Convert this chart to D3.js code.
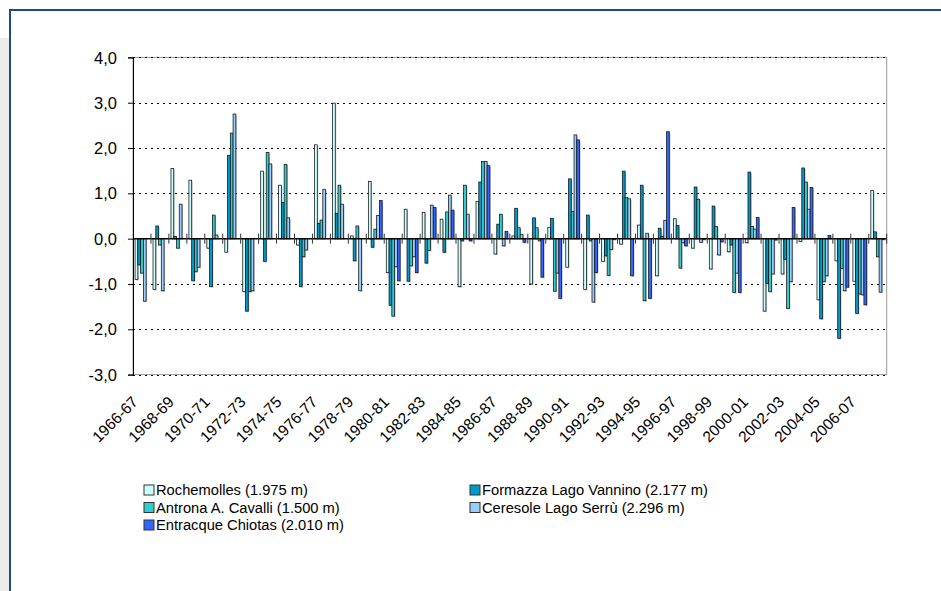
<!DOCTYPE html>
<html><head><meta charset="utf-8">
<script src="https://cdn.jsdelivr.net/npm/d3@7"></script>
<style>
body{margin:0;background:#fff;}
text{font-family:"Liberation Sans",Arial,sans-serif;fill:#000;}
</style>
</head><body>
<svg id="c" width="941" height="591"></svg>
<script>
const categories = ["1966-67","1967-68","1968-69","1969-70","1970-71","1971-72","1972-73","1973-74","1974-75","1975-76",
"1976-77","1977-78","1978-79","1979-80","1980-81","1981-82","1982-83","1983-84","1984-85","1985-86",
"1986-87","1987-88","1988-89","1989-90","1990-91","1991-92","1992-93","1993-94","1994-95","1995-96",
"1996-97","1997-98","1998-99","1999-00","2000-01","2001-02","2002-03","2003-04","2004-05","2005-06",
"2006-07","2007-08"];
const seriesNames = ["Rochemolles (1.975 m)","Formazza Lago Vannino (2.177 m)","Antrona A. Cavalli (1.500 m)","Ceresole Lago Serrù (2.296 m)","Entracque Chiotas (2.010 m)"];
const seriesColors = ["#CCFFFF","#0099CC","#33CCCC","#99CCFF","#3366FF"];
const rochemolles = [-0.90,-1.12,1.55,1.29,-0.21,-0.30,-1.17,1.49,1.18,-0.14,2.07,2.99,0.06,1.26,-0.75,0.65,0.58,0.43,-1.06,0.82,-0.34,0.06,-1.00,0.25,-0.63,-1.12,-0.50,-0.12,0.30,-0.82,0.44,-0.21,-0.67,-0.29,-0.09,-1.60,-0.78,-0.06,-1.35,-0.49,-0.94,1.06];
const formazza = [-0.58,0.28,0.05,-0.93,-1.06,1.84,-1.60,-0.50,0.80,-1.06,0.34,0.56,-0.49,-0.19,-1.47,-0.94,-0.54,-0.30,-0.05,1.25,0.32,0.67,0.46,0.45,1.32,0.52,-0.38,1.49,1.18,0.23,0.29,1.14,0.72,-0.14,1.47,-0.99,-0.46,1.56,-1.77,-2.20,-1.65,0.15];
const antrona = [-0.76,-0.14,-0.21,-0.73,0.52,2.33,-1.17,1.90,1.64,-0.40,0.41,1.18,0.28,0.21,-1.71,-0.60,-0.26,0.59,1.18,1.70,0.54,0.24,0.24,-1.16,0.60,-0.05,-0.81,0.91,-1.37,0.05,-0.65,0.87,0.27,-1.19,0.27,-1.17,-1.54,1.25,-0.95,-0.66,-1.22,-0.40];
const ceresole = [-1.38,-1.15,0.76,-0.63,0.08,2.75,-1.15,1.65,0.46,-0.25,1.09,0.76,-1.15,0.51,-0.62,-0.40,0.74,0.96,0.54,1.70,-0.16,0.09,-0.05,-0.76,2.29,-1.40,-0.24,0.88,0.12,0.40,-0.09,-0.08,-0.36,-0.76,0.21,-0.78,-0.95,0.65,-0.82,-1.15,-1.24,-1.18];
const entracque = [null,null,null,null,null,null,null,null,null,null,null,null,null,0.84,-0.93,-0.75,0.69,0.63,-0.05,1.61,0.16,-0.08,-0.85,-1.32,2.18,-0.75,-0.02,-0.82,-1.32,2.36,-0.16,-0.02,-0.07,-1.19,0.47,-0.03,0.69,1.13,0.07,-1.07,-1.46,-0.02];
const seriesValues = [rochemolles, formazza, antrona, ceresole, entracque];
const yTicks = [-3,-2,-1,0,1,2,3,4];
const yTickLabels = ["-3,0","-2,0","-1,0","0,0","1,0","2,0","3,0","4,0"];

const svg = d3.select("#c");
// frame
svg.append("rect").attr("x",0).attr("y",38).attr("width",9).attr("height",553).attr("fill","#EBEBEB");
svg.append("path").attr("d","M10,591V10H941").attr("fill","none").attr("stroke","#1F4E6E").attr("stroke-width",2);

const L=133, R=886.7, T=57.4, B=374.6;
const x0 = d3.scaleBand().domain(categories).range([L,R]).paddingInner(0).paddingOuter(0);
const x1 = d3.scaleBand().domain(seriesNames).range([0,x0.bandwidth()]).paddingInner(0).paddingOuter(0.75);
const y = d3.scaleLinear().domain([-3,4]).range([B,T]);

// plot border
svg.append("rect").attr("x",L).attr("y",T).attr("width",R-L).attr("height",B-T)
  .attr("fill","none").attr("stroke","#9A9A9A").attr("stroke-width",1);
// gridlines
svg.append("g").selectAll("line").data(yTicks.filter(d=>d!==0)).join("line")
  .attr("x1",L).attr("x2",R).attr("y1",d=>Math.round(y(d))+0.5).attr("y2",d=>Math.round(y(d))+0.5)
  .attr("stroke","#000").attr("stroke-width",1).attr("stroke-dasharray","2,4");

// y axis
const yAxis = d3.axisLeft(y).tickValues(yTicks).tickSize(5).tickPadding(0).tickFormat(()=> "");
const gy = svg.append("g").attr("transform",`translate(${L},0)`).call(yAxis);
gy.select(".domain").attr("stroke","#000");
svg.append("g").selectAll("text").data(yTicks).join("text")
  .attr("transform",d=>`translate(117,${y(d)}) scale(0.97,1)`)
  .attr("text-anchor","end").attr("dy","0.36em").attr("font-size",17)
  .text((d,i)=>yTickLabels[i]);

// shadows + bars
const gb = svg.append("g");
seriesValues.forEach((vals,s)=>{
  const data = vals.map((v,i)=>({v,i})).filter(d=>d.v!==null);
  gb.append("g").selectAll("rect").data(data).join("rect")
    .attr("x",d=>x0(categories[d.i])+x1(seriesNames[s])+1)
    .attr("y",d=>y(Math.max(0,d.v))+1)
    .attr("width",x1.bandwidth())
    .attr("height",d=>Math.abs(y(d.v)-y(0)))
    .attr("fill","#808080").attr("opacity",0.5);
});
seriesValues.forEach((vals,s)=>{
  const data = vals.map((v,i)=>({v,i})).filter(d=>d.v!==null);
  gb.append("g").selectAll("rect").data(data).join("rect")
    .attr("x",d=>x0(categories[d.i])+x1(seriesNames[s]))
    .attr("y",d=>y(Math.max(0,d.v)))
    .attr("width",x1.bandwidth())
    .attr("height",d=>Math.abs(y(d.v)-y(0)))
    .attr("fill",seriesColors[s]).attr("stroke","#111").attr("stroke-width",0.75);
});

// zero axis with category ticks
const y0 = y(0);
svg.append("line").attr("x1",L).attr("x2",R).attr("y1",y0).attr("y2",y0).attr("stroke","#000").attr("stroke-width",1.5);
svg.append("g").selectAll("line").data(categories.slice(1).concat(["__end"])).join("line")
  .attr("x1",d=>d==="__end"?R:x0(d)).attr("x2",d=>d==="__end"?R:x0(d))
  .attr("y1",y0-5).attr("y2",y0+5).attr("stroke","#333").attr("stroke-width",1);

// x labels
svg.append("g").selectAll("text").data(categories.filter((c,i)=>i%2===0)).join("text")
  .attr("transform",d=>`translate(${x0(d)+x0.bandwidth()/2-3},${403}) rotate(-45)`)
  .attr("text-anchor","end").attr("font-size",15.5).text(d=>d);

// legend
const legPos = [[144,490],[470,490],[144,507.5],[470,507.5],[144,525]];
const lg = svg.append("g");
seriesNames.forEach((n,s)=>{
  const [lx,ly]=legPos[s];
  lg.append("rect").attr("x",lx).attr("y",ly-5).attr("width",10).attr("height",10)
    .attr("fill",seriesColors[s]).attr("stroke","#333").attr("stroke-width",1);
  lg.append("text").attr("transform",`translate(${lx+12},${ly}) scale(0.98,1)`)
    .attr("dy","0.36em").attr("font-size",15).text(n);
});
</script>
</body></html>
